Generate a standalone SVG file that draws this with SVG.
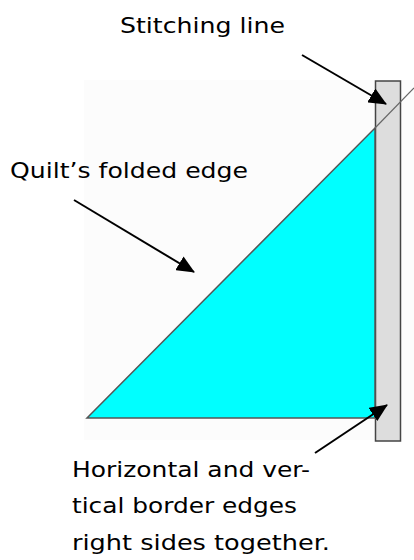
<svg xmlns="http://www.w3.org/2000/svg" width="414" height="560" viewBox="0 0 414 560">
<style>
text{font-family:"DejaVu Sans","Liberation Sans",sans-serif;font-size:22px;fill:#000}
.arr{stroke:#000;stroke-width:2;fill:none}
</style>
<defs>
<marker id="ah2" viewBox="0 0 18 16" refX="17" refY="8" markerWidth="18" markerHeight="16" orient="auto" markerUnits="userSpaceOnUse">
<path d="M0,0 L18,8 L0,16 Z" fill="#000"/>
</marker>
</defs>
<rect width="414" height="560" fill="#fff"/>
<rect x="84" y="80" width="330" height="360" fill="#fcfcfc"/>
<g id="strip">
<rect x="375.5" y="81" width="25" height="360" fill="#dddddd" stroke="#444" stroke-width="1.5"/>
</g>
<g id="triangle">
<polygon points="87,418 375,418 375,128" fill="#00ffff" stroke="#555" stroke-width="1.5"/>
</g>
<g id="stitch">
<line x1="375" y1="128" x2="414" y2="88" stroke="#666" stroke-width="1.2"/>
</g>
<g id="connectors">
<line class="arr" x1="302" y1="55" x2="386" y2="104" marker-end="url(#ah2)"/>
<line class="arr" x1="74" y1="200" x2="194" y2="272" marker-end="url(#ah2)"/>
<line class="arr" x1="315" y1="453" x2="387" y2="405" marker-end="url(#ah2)"/>
</g>
<g id="labels">
<text x="120" y="33" textLength="165" lengthAdjust="spacingAndGlyphs">Stitching line</text>
<text x="10" y="178" textLength="238" lengthAdjust="spacingAndGlyphs">Quilt’s folded edge</text>
<text x="72" y="477" textLength="238" lengthAdjust="spacingAndGlyphs">Horizontal and ver-</text>
<text x="72" y="513" textLength="225" lengthAdjust="spacingAndGlyphs">tical border edges</text>
<text x="72" y="550" textLength="258" lengthAdjust="spacingAndGlyphs">right sides together.</text>
</g>
</svg>
